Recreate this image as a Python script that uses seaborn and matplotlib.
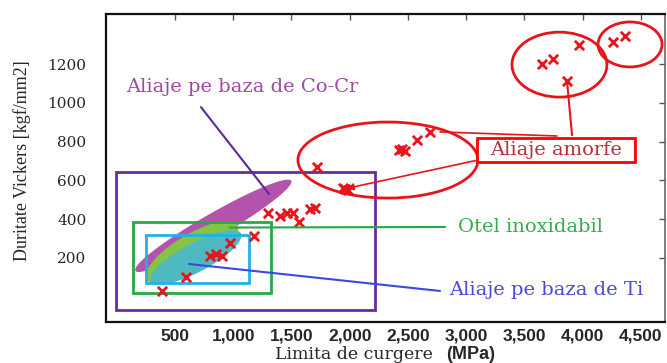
import numpy as np
import pandas as pd
import matplotlib
matplotlib.use("Agg")
import matplotlib.pyplot as plt
import seaborn as sns
from matplotlib.patches import Ellipse, Rectangle

# ---------------- data ----------------
yield_strength = [386, 594, 800, 852, 903, 972, 1181, 1301, 1401, 1459, 1515, 1567,
                  1659, 1702, 1719, 1942, 1959, 1985, 2423, 2449, 2474, 2575, 2689,
                  3648, 3747, 3862, 3970, 4257, 4359]
hardness = [30, 100, 210, 221, 210, 279, 315, 430, 418, 430, 430, 384,
            451, 456, 669, 561, 556, 551, 757, 762, 752, 808, 851,
            1198, 1226, 1114, 1298, 1315, 1346]

x_ticks = [500, 1000, 1500, 2000, 2500, 3000, 3500, 4000, 4500]
x_tick_labels = ["500", "1,000", "1,500", "2,000", "2,500", "3,000", "3,500", "4,000", "4,500"]
y_ticks = [200, 400, 600, 800, 1000, 1200]
y_tick_labels = ["200", "400", "600", "800", "1000", "1200"]

label_cocr = "Aliaje pe baza de Co-Cr"
label_steel = "Otel inoxidabil"
label_ti = "Aliaje pe baza de Ti"
label_amorph = "Aliaje amorfe"

# material regions (data units, centres)
region_cocr = (829, 366)
region_steel = (646, 228)
region_ti = (680, 203)
# bounding boxes (x0, y0, x1, y1) in data units
box_cocr = (-6, -68, 2217, 643)
box_steel = (139, 20, 1324, 386)
box_ti = (251, 71, 1135, 319)
box_amorph_label = (3092, 695, 4449, 819)
# amorphous clusters (centre x, centre y, width, height) data units
amorph_groups = [(2328, 705, 1545, 392), (3800, 1197, 815, 335), (4406, 1301, 549, 232)]

# ---------------- figure ----------------
sns.set_theme(style="white")
plt.rcParams['font.family'] = ['DejaVu Serif', 'DejaVu Sans']

fig = plt.figure(figsize=(6.67, 3.63), dpi=100)
ax = fig.add_axes([106/667, 1-322/363, (665-106)/667, (322-14)/363])
XMIN, XMAX, YMIN, YMAX = -92, 4706, -130, 1458
ax.set_xlim(XMIN, XMAX)
ax.set_ylim(YMIN, YMAX)

# px per data unit
axw_px = 665 - 106
axh_px = 322 - 14
sx = axw_px / (XMAX - XMIN)
sy = axh_px / (YMAX - YMIN)

def rot_ellipse(cx, cy, a_px, b_px, ang_deg, n=200):
    t = np.linspace(0, 2*np.pi, n)
    th = np.deg2rad(ang_deg)
    px = a_px*np.cos(t)*np.cos(th) - b_px*np.sin(t)*np.sin(th)
    py = a_px*np.cos(t)*np.sin(th) + b_px*np.sin(t)*np.cos(th)
    return cx + px/sx, cy + py/sy

# filled regions
xs, ys = rot_ellipse(*region_cocr, 90, 12, 30)
ax.fill(xs, ys, color="#b04aa8", alpha=0.95, lw=0, zorder=2)
xs, ys = rot_ellipse(*region_steel, 53, 18, 31)
ax.fill(xs, ys, color="#84c444", lw=0, zorder=3)
xs, ys = rot_ellipse(*region_ti, 51, 14.5, 28)
ax.fill(xs, ys, color="#4fb9c2", lw=0, zorder=4)

# boxes
for (x0, y0, x1, y1), col in [(box_cocr, "#6a2c9c"), (box_steel, "#27a84a"), (box_ti, "#22b0e6")]:
    ax.add_patch(Rectangle((x0, y0), x1-x0, y1-y0, fill=False, ec=col, lw=2, zorder=5))

# amorphous ellipses
for cx, cy, w, h in amorph_groups:
    ax.add_patch(Ellipse((cx, cy), w, h, fill=False, ec="#e8141c", lw=2, zorder=5))

# data points
df = pd.DataFrame({"x": yield_strength, "y": hardness})
sns.scatterplot(data=df, x="x", y="y", marker="x", color="#e8141c", s=45,
                linewidth=2, ax=ax, zorder=6, legend=False)

# leader lines
ax.plot([723, 1307], [978, 530], color="#5a2a9a", lw=1.5, zorder=7)
ax.plot([972, 2818], [357, 360], color="#27a84a", lw=1.5, zorder=7)
ax.plot([620, 2775], [169, 30], color="#3a4ae0", lw=1.5, zorder=7)
ax.plot([2775, 3779], [850, 829], color="#e8141c", lw=1.2, zorder=7)
ax.plot([3865, 3908], [1112, 834], color="#e8141c", lw=1.5, zorder=7)
ax.annotate("", xy=(1951, 556), xytext=(3101, 705),
            arrowprops=dict(arrowstyle="-|>", color="#e8141c", lw=1.2, mutation_scale=10), zorder=7)

# labels
ax.text(79, 1081, label_cocr, color="#a04aa0", fontsize=14, va="center", ha="left", zorder=8)
ax.text(2929, 362, label_steel, color="#3aaa50", fontsize=14, va="center", ha="left", zorder=8)
ax.text(2852, 33, label_ti, color="#4a4ad8", fontsize=14, va="center", ha="left", zorder=8)
x0, y0, x1, y1 = box_amorph_label
ax.add_patch(Rectangle((x0, y0), x1-x0, y1-y0, fc="white", ec="#ff0000", lw=2, zorder=8))
ax.text((x0+x1)/2, (y0+y1)/2, label_amorph, color="#b8303a", fontsize=14, va="center",
        ha="center", zorder=9)

# ticks
ax.set_xticks(x_ticks)
ax.set_xticklabels(x_tick_labels, fontfamily="Liberation Sans", fontweight="bold", fontsize=12.5)
ax.set_yticks(y_ticks)
ax.set_yticklabels(y_tick_labels, fontsize=11)
ax.tick_params(axis="both", direction="in", length=4, width=1, color="#555555",
               top=True, right=True)
ax.tick_params(axis="x", pad=5)
ax.tick_params(axis="y", pad=14)
ax.set_xlabel("")
ax.set_ylabel("")
for side in ["left", "bottom", "top"]:
    ax.spines[side].set_color("#111111")
    ax.spines[side].set_linewidth(1.6)
ax.spines["right"].set_color("#666666")
ax.spines["right"].set_linewidth(1.2)

fig.text(354/667, 1-359/363, "Limita de curgere", fontsize=12.5, ha="center", va="baseline",
         fontfamily="DejaVu Serif")
fig.text(471/667, 1-359/363, "(MPa)", fontsize=13, ha="center", va="baseline",
         fontfamily="Liberation Sans", fontweight="bold")
fig.text(22/667, 1-161/363, "Duritate Vickers [kgf/mm2]", fontsize=13, rotation=90,
         ha="center", va="center", fontfamily="Liberation Serif")

fig.savefig("out.png", dpi=100)
